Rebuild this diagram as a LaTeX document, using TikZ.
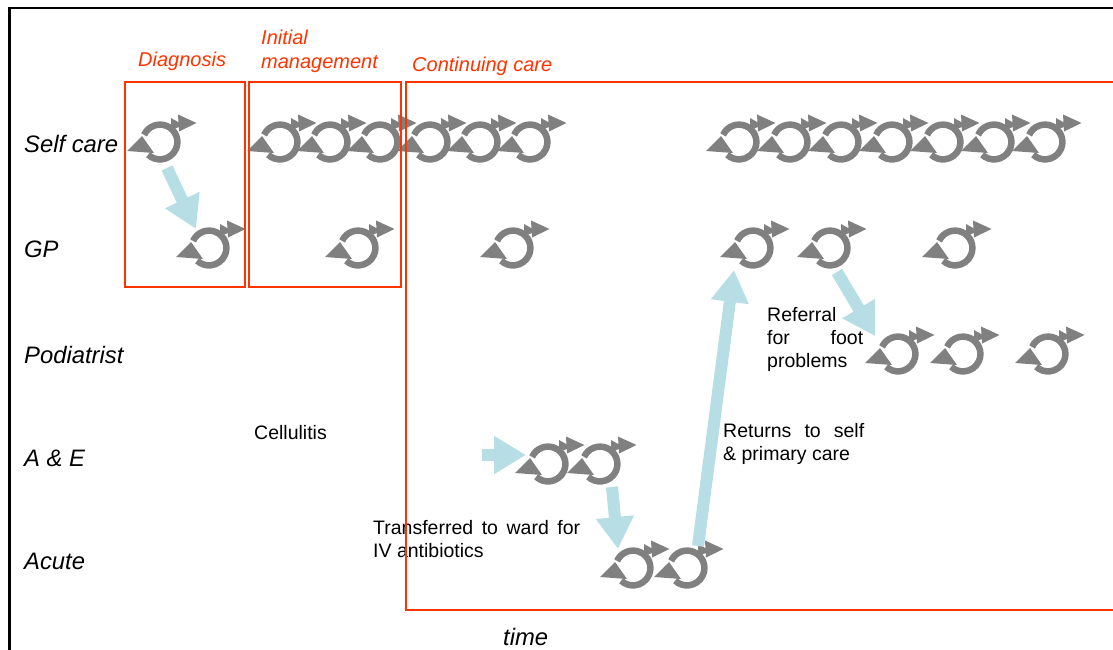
\documentclass[tikz,border=0pt]{standalone}
\usepackage{fontspec}
\setmainfont{Liberation Sans}
\usetikzlibrary{arrows.meta}
\definecolor{phase}{RGB}{255,51,0}
\definecolor{cycgray}{RGB}{128,128,128}
\definecolor{flowblue}{RGB}{183,222,228}
\tikzset{
  cycle icon/.pic={
    \begin{scope}[yscale=-1]
      \draw[cycgray, line width=6.5pt] (156:17.4) arc[start angle=156, end angle=-133, radius=17.4];
      \fill[cycgray] (-33,-9) -- (-18,6) -- (-6,-11) -- cycle;
      \fill[cycgray] (11,24) -- (19,19.5) -- (19,15) -- (11,12) -- cycle;
      \fill[cycgray] (18,27.5) -- (36.5,19) -- (19,10.5) -- cycle;
    \end{scope}
  },
  rowlabel/.style={anchor=base west, inner sep=0pt, font=\fontsize{23.8}{28}\selectfont\itshape},
  phasetitle/.style={anchor=base west, inner sep=0pt, text=phase, align=left, font=\fontsize{20}{24}\selectfont\itshape},
  note/.style={anchor=base west, inner sep=0pt, align=left, font=\fontsize{19.5}{23}\selectfont},
  phasebox/.style={draw=phase, line width=2.2pt},
  flow/.style={draw=flowblue, line width=12pt, -{Triangle[length=32pt,width=36pt]}},
}
\begin{document}
\begin{tikzpicture}[x=1pt, y=-1pt]
  \useasboundingbox (0,0) rectangle (1113,650);
  \clip (0,0) rectangle (1113,650);
  \fill[white] (0,0) rectangle (1113,650);

  % outer frame
  \draw[line width=2.5pt] (9.5,8) rectangle (1200,720);

  % row labels
  \node[rowlabel] (lself) at (24,153) {Self care};
  \node[rowlabel] (lgp)   at (24,257) {GP};
  \node[rowlabel] (lpod)  at (24,363) {Podiatrist};
  \node[rowlabel] (lae)   at (24,466) {A \& E};
  \node[rowlabel] (lacu)  at (24,569) {Acute};
  \node[rowlabel] (ltime) at (503,645) {time};

  % phase titles (base anchor = last line)
  \node[phasetitle] (tdiag) at (138,67) {Diagnosis};
  \node[phasetitle] (tinit) at (261,69) {Initial\\management};
  \node[phasetitle] (tcont) at (412,72) {Continuing care};

  % self care cycles
  \foreach \x [count=\i] in {160,280,330,380,430,480,530,739,790,841,892,943,994,1045}
    \pic (sc\i) at (\x,142) {cycle icon};
  % GP cycles
  \foreach \x [count=\i] in {209,358,513,753,830,955}
    \pic (gp\i) at (\x,248) {cycle icon};
  % podiatrist cycles
  \foreach \x [count=\i] in {898,963,1048}
    \pic (pd\i) at (\x,354) {cycle icon};
  % A & E cycles
  \foreach \x [count=\i] in {548,600}
    \pic (ae\i) at (\x,464) {cycle icon};
  % acute cycles
  \foreach \x [count=\i] in {633,687}
    \pic (ac\i) at (\x,568) {cycle icon};

  % ends of the transfer arrows
  \coordinate (f1s) at (167,168);  \coordinate (f1e) at (196,229);
  \coordinate (f2s) at (482,455);  \coordinate (f2e) at (526,455);
  \coordinate (f3s) at (612,487);  \coordinate (f3e) at (618,549);
  \coordinate (f4s) at (698,546);  \coordinate (f4e) at (734,270);
  \coordinate (f5s) at (837,272);  \coordinate (f5e) at (875,336);
  \draw[flow] (f1s) -- (f1e);
  \draw[flow] (f2s) -- (f2e);
  \draw[flow] (f3s) -- (f3e);
  \draw[flow] (f4s) -- (f4e);
  \draw[flow] (f5s) -- (f5e);

  % notes (base anchor = last line)
  \node[note] (ncell) at (254,439) {Cellulitis};
  \node[note] (nward) at (373,557) {\makebox[207pt][l]{Transferred\hfill to\hfill ward\hfill for}\\IV antibiotics};
  \node[note] (nret)  at (723,460) {\makebox[141pt][l]{Returns\hfill to\hfill self}\\\& primary care};
  \node[note] (nref)  at (767,367) {Referral\\\makebox[96pt][l]{for\hfill foot}\\problems};

  % phase boxes
  \draw[phasebox] (125,82) rectangle (245,287);
  \draw[phasebox] (249,82) rectangle (401,287);
  \draw[phasebox] (406,82) rectangle (1130,610);
\end{tikzpicture}
\end{document}
